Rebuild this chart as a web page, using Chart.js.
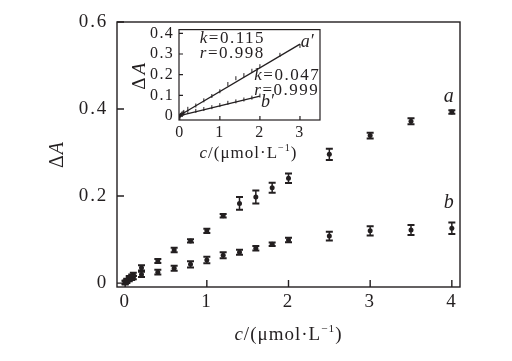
<!DOCTYPE html>
<html>
<head>
<meta charset="utf-8">
<script src="https://cdn.jsdelivr.net/npm/chart.js@4/dist/chart.umd.min.js"></script>
<style>
  body { margin: 0; background: #fff; }
  #wrap { position: relative; width: 512px; height: 361px; }
  #main { position: absolute; left: 0; top: 0; }
  #inset { position: absolute; left: 125px; top: 15px; }
</style>
</head>
<body>
<div id="wrap">
  <canvas id="main" width="512" height="361"></canvas>
  <canvas id="inset" width="200" height="150"></canvas>
</div>
<script>
// concentrations, umol/L
const concA = [0, 0.02, 0.05, 0.08, 0.1, 0.2, 0.4, 0.6, 0.8, 1.0, 1.2, 1.4, 1.6, 1.8, 2.0, 2.5, 3.0, 3.5, 4.0];
const deltaA = [0.002, 0.006, 0.012, 0.016, 0.02, 0.035, 0.051, 0.076, 0.097, 0.12, 0.155, 0.183, 0.198, 0.219, 0.241, 0.296, 0.339, 0.372, 0.393];
const errA = [0.004, 0.004, 0.004, 0.004, 0.004, 0.006, 0.0046, 0.0054, 0.0035, 0.005, 0.004, 0.0146, 0.015, 0.0115, 0.011, 0.013, 0.0065, 0.007, 0.004];

const concB = [0, 0.02, 0.05, 0.08, 0.1, 0.2, 0.4, 0.6, 0.8, 1.0, 1.2, 1.4, 1.6, 1.8, 2.0, 2.5, 3.0, 3.5, 4.0];
const deltaB = [0.001, 0.004, 0.008, 0.011, 0.013, 0.02, 0.025, 0.034, 0.043, 0.053, 0.064, 0.071, 0.08, 0.089, 0.099, 0.108, 0.12, 0.122, 0.126];
const errB = [0.004, 0.004, 0.004, 0.004, 0.004, 0.006, 0.0054, 0.0057, 0.0069, 0.0077, 0.0069, 0.0057, 0.0054, 0.004, 0.0054, 0.01, 0.0107, 0.0115, 0.0134];

// linear fits shown in the inset
const fitA = [{x: 0, y: 0.004}, {x: 3, y: 0.348}];
const fitB = [{x: 0, y: 0.002}, {x: 2, y: 0.096}];
const insetMaxA = 3.0;
const insetMaxB = 2.0;

const ink = '#231f20';
const serif = '"Liberation Serif", "DejaVu Serif", serif';

function pts(xs, ys, maxX) {
  const out = [];
  xs.forEach((x, i) => { if (maxX === undefined || x <= maxX) out.push({x: x, y: ys[i]}); });
  return out;
}

function fmt(v) { return String(+v.toFixed(2)); }

// draw a run of text pieces, each [text, italic, sup]
function drawParts(ctx, parts, x, y, size, align, spacing) {
  ctx.save();
  ctx.fillStyle = ink;
  ctx.textBaseline = 'middle';
  ctx.textAlign = 'left';
  ctx.letterSpacing = (spacing || 0) + 'px';
  let w = 0;
  parts.forEach(p => {
    const s = p[2] ? size * 0.6 : size;
    ctx.font = (p[1] ? 'italic ' : '') + s + 'px ' + serif;
    w += ctx.measureText(p[0]).width;
  });
  let cx = align === 'left' ? x : x - w / 2;
  parts.forEach(p => {
    const s = p[2] ? size * 0.6 : size;
    ctx.font = (p[1] ? 'italic ' : '') + s + 'px ' + serif;
    ctx.fillText(p[0], cx, p[2] ? y - size * 0.32 : y);
    cx += ctx.measureText(p[0]).width;
  });
  ctx.restore();
}

const errorBars = {
  id: 'errorBars',
  afterDatasetsDraw(chart, args, opts) {
    const ctx = chart.ctx;
    const xs = chart.scales.x, ys = chart.scales.y;
    ctx.save();
    ctx.strokeStyle = ink;
    chart.data.datasets.forEach(ds => {
      if (!ds.err) return;
      ds.data.forEach((p, i) => {
        const px = xs.getPixelForValue(p.x);
        const top = ys.getPixelForValue(p.y + ds.err[i]);
        const bot = ys.getPixelForValue(p.y - ds.err[i]);
        ctx.lineWidth = 1.5;
        ctx.beginPath();
        ctx.moveTo(px, top); ctx.lineTo(px, bot);
        ctx.stroke();
        ctx.lineWidth = 2;
        ctx.beginPath();
        ctx.moveTo(px - 3.5, top); ctx.lineTo(px + 3.5, top);
        ctx.moveTo(px - 3.5, bot); ctx.lineTo(px + 3.5, bot);
        ctx.stroke();
      });
    });
    ctx.restore();
  }
};

// box and inward tick marks
const frame = {
  id: 'frame',
  beforeDraw(chart, args, opts) {
    // the reference type is set a little wider than Liberation Serif
    chart.ctx.letterSpacing = (opts.spacing || 0) + 'px';
  },
  afterDraw(chart, args, opts) {
    const ctx = chart.ctx, a = chart.chartArea;
    ctx.save();
    ctx.strokeStyle = ink;
    ctx.lineWidth = opts.width || 1.3;
    ctx.strokeRect(a.left, a.top, a.right - a.left, a.bottom - a.top);
    const len = opts.tick || 7;
    ctx.beginPath();
    chart.scales.x.ticks.forEach(t => {
      const px = chart.scales.x.getPixelForValue(t.value);
      ctx.moveTo(px, a.bottom); ctx.lineTo(px, a.bottom - len);
    });
    chart.scales.y.ticks.forEach(t => {
      const py = chart.scales.y.getPixelForValue(t.value);
      ctx.moveTo(a.left, py); ctx.lineTo(a.left + len, py);
    });
    ctx.stroke();
    ctx.restore();
  }
};

// titles and in-plot labels
const labels = {
  id: 'labels',
  afterDraw(chart, args, opts) {
    const ctx = chart.ctx, a = chart.chartArea;
    const xs = chart.scales.x, ys = chart.scales.y;
    const xt = opts.xTitle;
    drawParts(ctx, [['c', true], ['/(\u03bcmol\u00b7L', false], ['\u22121', false, true], [')', false]],
      (a.left + a.right) / 2 + xt.dx, a.bottom + xt.dy, xt.size, 'center', xt.spacing);
    const yt = opts.yTitle;
    ctx.save();
    ctx.translate(a.left - yt.dx, (a.top + a.bottom) / 2 + yt.dy);
    ctx.rotate(-Math.PI / 2);
    drawParts(ctx, [['\u0394', false], ['A', true]], 0, 0, yt.size, 'center', yt.spacing);
    ctx.restore();
    (opts.notes || []).forEach(n => {
      const sp = n.spacing !== undefined ? n.spacing : opts.noteSpacing;
      drawParts(ctx, n.parts, xs.getPixelForValue(n.x), ys.getPixelForValue(n.y), n.size, 'left', sp);
    });
  }
};

function axis(min, max, step, size, pad, fit, dim) {
  return {
    type: 'linear', min: min, max: max,
    ticks: { stepSize: step, includeBounds: false, color: ink, padding: pad,
      font: { family: serif, size: size }, callback: v => fmt(v) },
    grid: { display: false, drawTicks: false },
    border: { display: false },
    afterFit: s => { s[dim] = fit; }
  };
}

new Chart(document.getElementById('main'), {
  type: 'scatter',
  data: {
    datasets: [
      { label: 'a', data: pts(concA, deltaA), err: errA, backgroundColor: ink, borderColor: ink, pointRadius: 2.5, borderWidth: 0 },
      { label: 'b', data: pts(concB, deltaB), err: errB, backgroundColor: ink, borderColor: ink, pointRadius: 2.5, borderWidth: 0 }
    ]
  },
  options: {
    responsive: false, animation: false,
    layout: { padding: { top: 22, right: 52, left: 0, bottom: 0 } },
    scales: {
      x: axis(-0.1, 4.1, 1, 19, 4, 74, 'height'),
      y: axis(-0.009, 0.6, 0.2, 19, 9, 117, 'width')
    },
    plugins: {
      legend: { display: false }, tooltip: { enabled: false },
      frame: { width: 1.4, tick: 7, spacing: 1.8 },
      labels: {
        xTitle: { dx: 0, dy: 48, size: 19, spacing: 1 },
        yTitle: { dx: 59, dy: 0, size: 20, spacing: 1 },
        noteSpacing: 0,
        notes: [
          { x: 3.9, y: 0.428, size: 20, parts: [['a', true]] },
          { x: 3.9, y: 0.184, size: 20, parts: [['b', true]] }
        ]
      }
    }
  },
  plugins: [errorBars, frame, labels]
});

new Chart(document.getElementById('inset'), {
  type: 'scatter',
  data: {
    datasets: [
      { data: fitA, showLine: true, pointRadius: 0, borderColor: ink, borderWidth: 1.3 },
      { data: fitB, showLine: true, pointRadius: 0, borderColor: ink, borderWidth: 1.3 },
      { data: pts(concA, deltaA, insetMaxA), pointStyle: 'line', rotation: 90, pointRadius: 2, borderColor: ink, borderWidth: 1 },
      { data: pts(concB, deltaB, insetMaxB), pointStyle: 'line', rotation: 90, pointRadius: 2, borderColor: ink, borderWidth: 1 }
    ]
  },
  options: {
    responsive: false, animation: false,
    layout: { padding: { top: 13, right: 5, left: 0, bottom: 0 } },
    scales: {
      x: axis(-0.02, 3.5, 1, 16, 3, 45, 'height'),
      y: axis(-0.019, 0.418, 0.1, 16, 5, 54, 'width')
    },
    plugins: {
      legend: { display: false }, tooltip: { enabled: false },
      frame: { width: 1.2, tick: 4, spacing: 1.3 },
      labels: {
        xTitle: { dx: -1, dy: 34, size: 17, spacing: 1 },
        yTitle: { dx: 39, dy: 0, size: 19, spacing: 3 },
        noteSpacing: 1.5,
        notes: [
          { x: 0.5, y: 0.375, size: 17, parts: [['k', true], ['=0.115', false]] },
          { x: 0.5, y: 0.30, size: 17, parts: [['r', true], ['=0.998', false]] },
          { x: 1.86, y: 0.196, size: 17, parts: [['k', true], ['=0.047', false]] },
          { x: 1.86, y: 0.123, size: 17, parts: [['r', true], ['=0.999', false]] },
          { x: 2.03, y: 0.068, size: 18, spacing: 0, parts: [['b\u2032', true]] },
          { x: 3.02, y: 0.355, size: 18, spacing: 0, parts: [['a\u2032', true]] }
        ]
      }
    }
  },
  plugins: [frame, labels]
});
</script>
</body>
</html>
